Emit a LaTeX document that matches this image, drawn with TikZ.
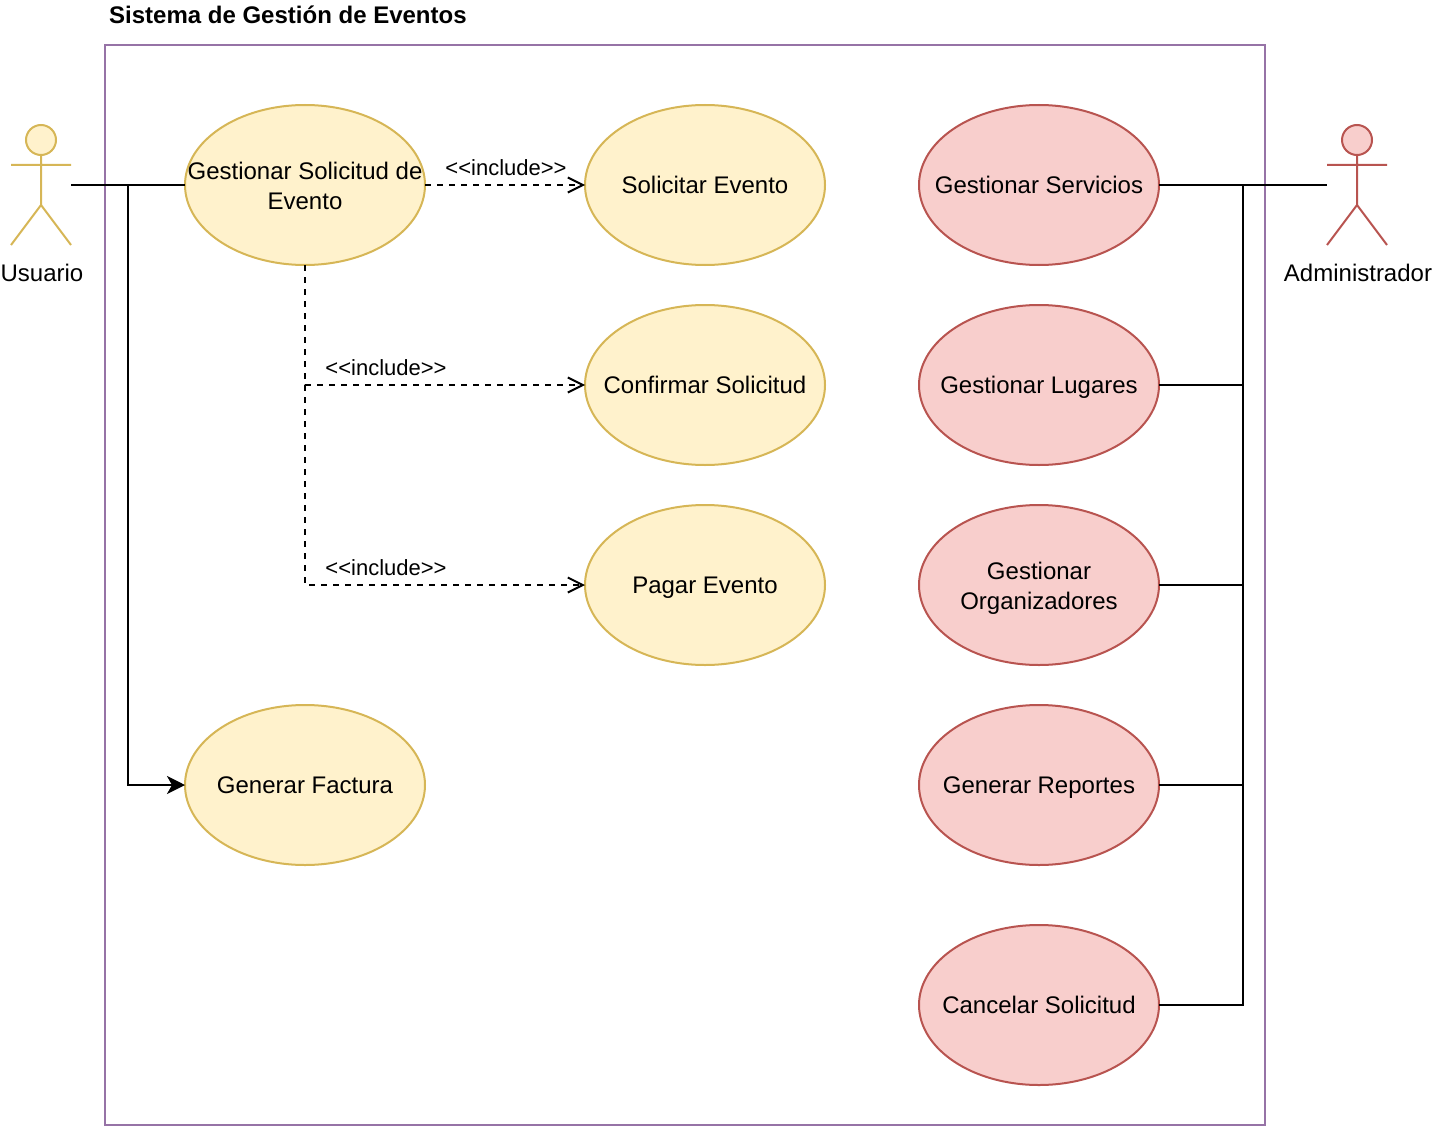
\documentclass[tikz,border=0pt]{standalone}
\usepackage{fontspec}
\setmainfont{Liberation Sans}[Ligatures=TeXOff]
\usetikzlibrary{arrows.meta,shapes.geometric}
\definecolor{yf}{HTML}{FFF2CC}\definecolor{yd}{HTML}{D6B656}
\definecolor{rf}{HTML}{F8CECC}\definecolor{rd}{HTML}{B85450}
\definecolor{pd}{HTML}{9673A6}
\newcommand{\ucline}[1]{\makebox[0pt][c]{\rule[-6pt]{0pt}{30pt}#1}}
\newcommand{\uclow}[1]{\makebox[0pt][c]{\rule[-5.5pt]{0pt}{30pt}#1}}
\newcommand{\ucone}[1]{\makebox[0pt][c]{\rule[-6.6pt]{0pt}{30pt}#1}}
\tikzset{x=1pt,y=-1pt,
 uc/.style={ellipse,draw,line width=2pt,minimum width=240pt,minimum height=160pt,inner sep=0pt,outer sep=0pt,align=center,font=\fontsize{24pt}{30pt}\selectfont},
 yuc/.style={uc,fill=yf,draw=yd},
 ruc/.style={uc,fill=rf,draw=rd},
 lbl/.style={font=\fontsize{24pt}{30pt}\selectfont,inner sep=0pt},
 smalllbl/.style={font=\fontsize{22pt}{26pt}\selectfont,inner sep=0pt},
 wire/.style={line width=2pt,draw=black},
 incl/.style={wire,dash pattern=on 6pt off 6pt,-{Straight Barb[length=15pt,width=15pt,line width=2pt]}}}
\begin{document}
\begin{tikzpicture}
\useasboundingbox (0,0) rectangle (1432,1126);
\node[draw=pd,line width=2pt,minimum width=1160pt,minimum height=1080pt,inner sep=0pt,outer sep=0pt,anchor=north west] (sys) at (105,45) {};
\node[anchor=base west,inner sep=0pt,font=\bfseries\fontsize{24pt}{30pt}\selectfont] (title) at (109,23.5) {Sistema de Gestión de Eventos};
% actors
\draw[yd,line width=2pt,fill=yf] (41,140) circle (15);
\draw[yd,line width=2pt] (41,155)--(41,205) (11,165)--(71,165) (11,245)--(41,205)--(71,245);
\draw[rd,line width=2pt,fill=rf] (1357,140) circle (15);
\draw[rd,line width=2pt] (1357,155)--(1357,205) (1327,165)--(1387,165) (1327,245)--(1357,205)--(1387,245);
\coordinate (ua) at (71,185);
\coordinate (aa) at (1327,185);
\node[lbl] (ul) at (42,273) {Usuario};
\node[lbl] (al) at (1358,273) {Administrador};
% use cases
\node[yuc] (g) at (305,185) {\uclow{Gestionar Solicitud de}\\\uclow{Evento}};
\node[yuc] (s) at (705,185) {\ucone{Solicitar Evento}};
\node[yuc] (c) at (705,385) {\ucone{Confirmar Solicitud}};
\node[yuc] (p) at (705,585) {\ucone{Pagar Evento}};
\node[yuc] (f) at (305,785) {\ucone{Generar Factura}};
\node[ruc] (gs) at (1039,185) {\ucone{Gestionar Servicios}};
\node[ruc] (gl) at (1039,385) {\ucone{Gestionar Lugares}};
\node[ruc] (go) at (1039,585) {\ucline{Gestionar}\\\ucline{Organizadores}};
\node[ruc] (gr) at (1039,785) {\ucone{Generar Reportes}};
\node[ruc] (cs) at (1039,1005) {\ucone{Cancelar Solicitud}};
% connectors
\draw[wire] (ua)--(g.west);
\draw[wire,-{Stealth[length=18pt,width=18pt,inset=5pt]}] (ua)-|(128,785)--(f.west);
\draw[incl] (g.east)--(s.west);
\draw[incl] (g.south)|-(c.west);
\draw[incl] (g.south)|-(p.west);
\node[smalllbl] (i1) at (506,167.7) {<<include>>};
\node[smalllbl] (i2) at (386,367.7) {<<include>>};
\node[smalllbl] (i3) at (386,567.7) {<<include>>};
\coordinate (bus) at (1243,185);
\draw[wire] (gs.east)--(aa);
\draw[wire] (gl.east)-|(bus);
\draw[wire] (go.east)-|(bus);
\draw[wire] (gr.east)-|(bus);
\draw[wire] (cs.east)-|(bus);
\end{tikzpicture}
\end{document}
